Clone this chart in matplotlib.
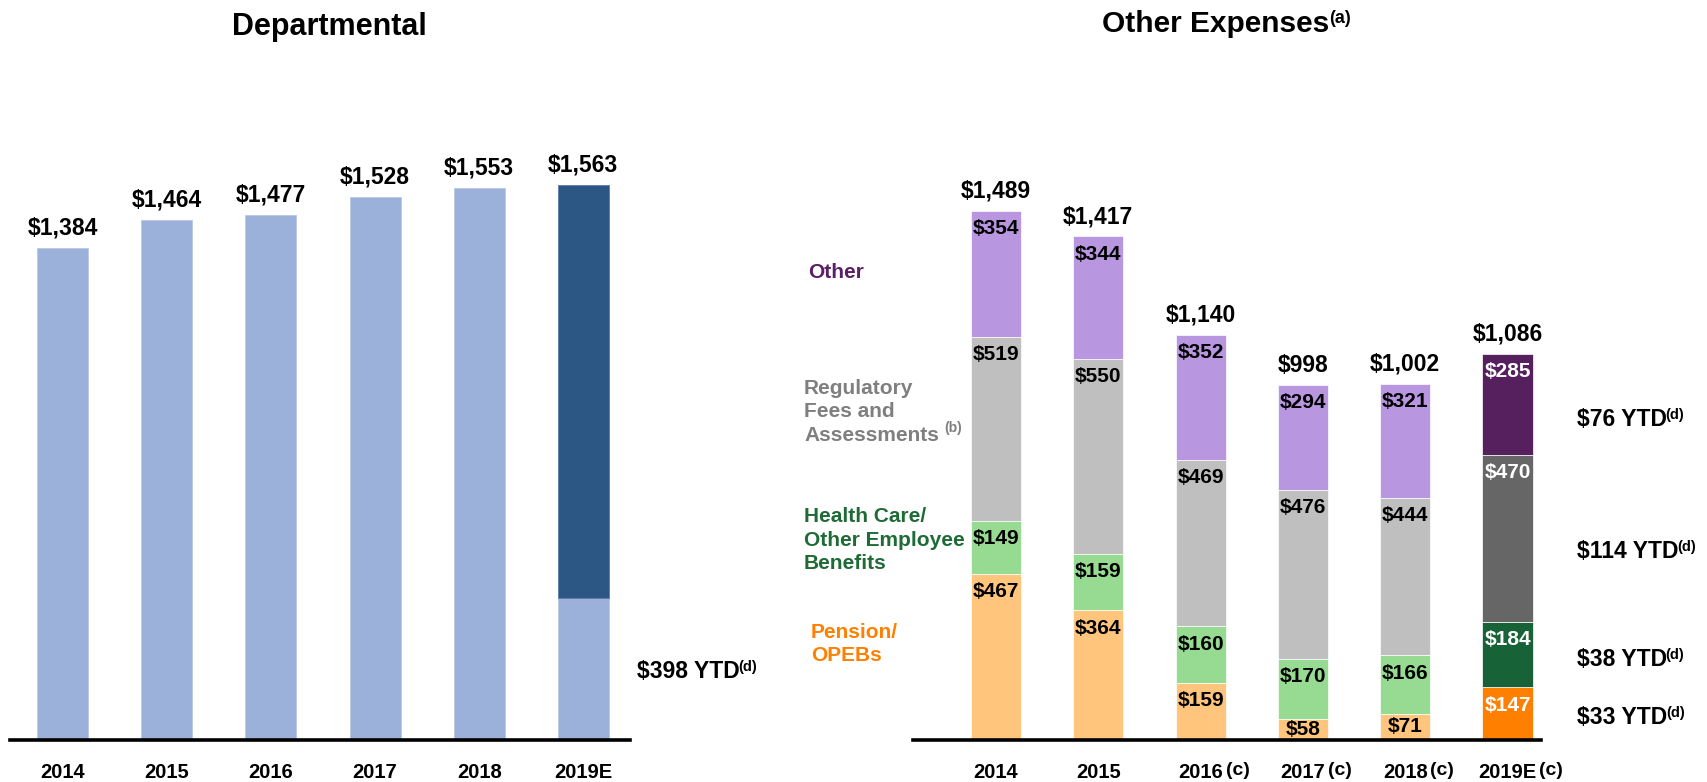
import matplotlib
matplotlib.use("Agg")
import matplotlib.pyplot as plt
import numpy as np

plt.rcParams['font.family'] = ['Liberation Sans', 'DejaVu Sans']
plt.rcParams['font.weight'] = 'bold'

# ---------------- data ----------------
dept_years = ['2014', '2015', '2016', '2017', '2018', '2019E']
dept_values = [1384, 1464, 1477, 1528, 1553, 1563]
dept_ytd_2019 = 398

oth_years = ['2014', '2015', '2016', '2017', '2018', '2019E']
oth_notes = ['', '', '(c)', '(c)', '(c)', '(c)']
pension = [467, 364, 159, 58, 71, 147]
health = [149, 159, 160, 170, 166, 184]
regulatory = [519, 550, 469, 476, 444, 470]
other = [354, 344, 352, 294, 321, 285]
oth_totals = [1489, 1417, 1140, 998, 1002, 1086]
ytd_labels = ['$33 YTD', '$38 YTD', '$114 YTD', '$76 YTD']  # pension, health, regulatory, other

# ---------------- styling ----------------
W, H = 1708, 782
fig = plt.figure(figsize=(W / 100, H / 100), dpi=100)

def fx(x):
    return x / W

def fy(y):
    return 1 - y / H

BASE = 739.6
PXU = 0.3551  # pixels per unit
YTOP = 2000
ax_h = YTOP * PXU / H

LIGHT_BLUE = '#9CB1D9'
DARK_BLUE = '#2C5784'
c_light = ['#FFC57D', '#96DB91', '#BFBFBF', '#B996E0']
c_dark = ['#FF8000', '#176236', '#666666', '#561F5E']
cat_colors = ['#FF8000', '#1E6B36', '#7F7F7F', '#5A1F66']

def style_axis(ax):
    for s in ['top', 'right', 'left']:
        ax.spines[s].set_visible(False)
    ax.spines['bottom'].set_linewidth(2.6)
    ax.spines['bottom'].set_color('black')
    ax.set_yticks([])
    ax.set_xticks([])
    ax.set_ylim(0, YTOP)
    ax.patch.set_alpha(0)

def fmt(v):
    return '${:,}'.format(v)

# ---------------- left chart ----------------
axL = fig.add_axes([fx(10), fy(BASE), fx(619.6), ax_h])
style_axis(axL)
axL.set_xlim(-0.507, 5.445)
n = len(dept_years)
for i in range(n):
    if i == n - 1:
        axL.bar(i, dept_ytd_2019, width=0.49, color=LIGHT_BLUE, edgecolor='#B8C8E6', linewidth=0.6)
        axL.bar(i, dept_values[i] - dept_ytd_2019, bottom=dept_ytd_2019, width=0.49,
                color=DARK_BLUE, edgecolor='#5A7DA6', linewidth=0.6)
    else:
        axL.bar(i, dept_values[i], width=0.49, color=LIGHT_BLUE, edgecolor='#B8C8E6', linewidth=0.6)
    axL.annotate(fmt(dept_values[i]), xy=(i, dept_values[i]), xytext=(0, 6),
                 textcoords='offset points', ha='center', va='bottom',
                 fontsize=16.5, fontweight='bold')
    axL.annotate(dept_years[i], xy=(i, 0), xytext=(0, -24), textcoords='offset points',
                 ha='center', va='center', fontsize=14.5, fontweight='bold')

t = fig.text(fx(637), fy(672), '$398 YTD', ha='left', va='center', fontsize=16.5, fontweight='bold')
axL.annotate('(d)', xy=(1, 1), xycoords=t, xytext=(-1, 0), textcoords='offset points',
             ha='left', va='top', fontsize=10.5, fontweight='bold', annotation_clip=False)

fig.text(fx(329), fy(27), 'Departmental', ha='center', va='center', fontsize=22, fontweight='bold')

# ---------------- right chart ----------------
axR = fig.add_axes([fx(912.8), fy(BASE), fx(628.6), ax_h])
style_axis(axR)
axR.set_xlim(-0.813, 5.331)
segs = [pension, health, regulatory, other]
m = len(oth_years)
for i in range(m):
    bottom = 0
    for k, seg in enumerate(segs):
        v = seg[i]
        col = c_dark[k] if i == m - 1 else c_light[k]
        axR.bar(i, v, bottom=bottom, width=0.49, color=col, edgecolor='white', linewidth=0.5)
        top = bottom + v
        ly = top - min(50, v / 2)
        axR.text(i, ly, fmt(v), ha='center', va='center', fontsize=15, fontweight='bold',
                 color='white' if i == m - 1 else 'black')
        bottom = top
    axR.annotate(fmt(oth_totals[i]), xy=(i, oth_totals[i]), xytext=(0, 6),
                 textcoords='offset points', ha='center', va='bottom',
                 fontsize=16.5, fontweight='bold')
    yt = axR.annotate(oth_years[i], xy=(i, 0), xytext=(0, -24), textcoords='offset points',
                      ha='center', va='center', fontsize=14.5, fontweight='bold')
    if oth_notes[i]:
        axR.annotate(oth_notes[i], xy=(1, 0.5), xycoords=yt, xytext=(2, 2),
                     textcoords='offset points', ha='left', va='center',
                     fontsize=14, fontweight='bold', annotation_clip=False)

# category labels
fig.text(fx(808), fy(273), 'Other', ha='left', va='center', fontsize=15,
         fontweight='bold', color=cat_colors[3])
treg = fig.text(fx(804), fy(379), 'Regulatory\nFees and\nAssessments', ha='left', va='top',
                fontsize=15, fontweight='bold', color=cat_colors[2], linespacing=1.3)
axR.annotate('(b)', xy=(1, 0), xycoords=treg, xytext=(4, 7), textcoords='offset points',
             ha='left', va='bottom', fontsize=10, fontweight='bold', color=cat_colors[2],
             annotation_clip=False)
fig.text(fx(804), fy(540), 'Health Care/\nOther Employee\nBenefits', ha='left', va='center',
         fontsize=15, fontweight='bold', color=cat_colors[1], linespacing=1.3)
fig.text(fx(811), fy(644), 'Pension/\nOPEBs', ha='left', va='center',
         fontsize=15, fontweight='bold', color=cat_colors[0], linespacing=1.3)

# YTD labels
ytd_y = [717, 659, 552, 420]
for lab, yy in zip(ytd_labels, ytd_y):
    tt = fig.text(fx(1577), fy(yy), lab, ha='left', va='center', fontsize=16.5, fontweight='bold')
    axR.annotate('(d)', xy=(1, 1), xycoords=tt, xytext=(-1, 0), textcoords='offset points',
                 ha='left', va='top', fontsize=10.5, fontweight='bold', annotation_clip=False)

tr = fig.text(fx(1216), fy(24), 'Other Expenses', ha='center', va='center', fontsize=21.5, fontweight='bold')
axR.annotate('(a)', xy=(1, 1), xycoords=tr, xytext=(0, 0), textcoords='offset points',
             ha='left', va='top', fontsize=13, fontweight='bold', annotation_clip=False)

fig.savefig('out.png', dpi=100)
